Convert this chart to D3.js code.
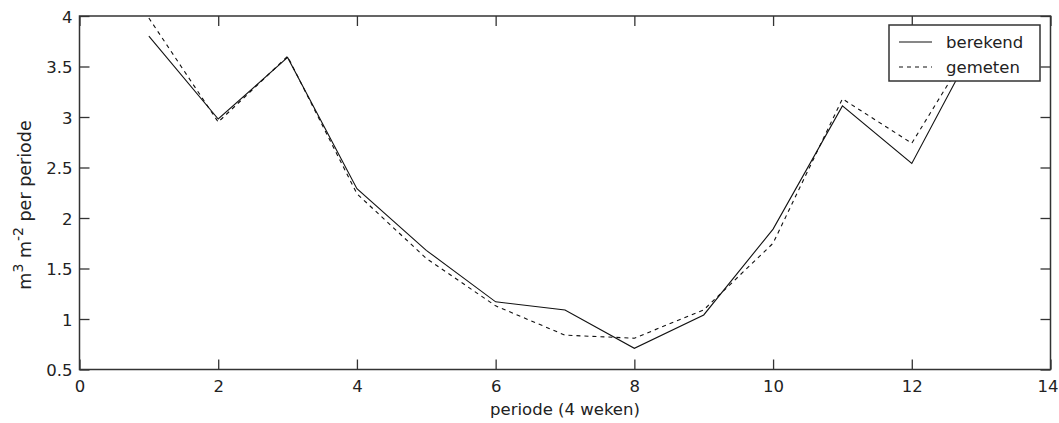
<!DOCTYPE html>
<html>
<head>
<meta charset="utf-8">
<script src="https://cdn.jsdelivr.net/npm/d3@7"></script>
<style>
  body { margin: 0; background: #fff; }
  svg text { font-family: "DejaVu Sans", sans-serif; font-size: 16.5px; fill: #222; }
</style>
</head>
<body>
<script>
const width = 1059;
const height = 423;

// periods 1..13
const periods = [1, 2, 3, 4, 5, 6, 7, 8, 9, 10, 11, 12, 13];
const berekend = [3.80, 2.98, 3.59, 2.29, 1.68, 1.17, 1.09, 0.71, 1.04, 1.89, 3.11, 2.54, 3.83];
const gemeten = [3.98, 2.95, 3.60, 2.24, 1.60, 1.13, 0.84, 0.81, 1.09, 1.75, 3.18, 2.74, 3.86];
const xTicks = [0, 2, 4, 6, 8, 10, 12, 14];
const yTicks = [0.5, 1, 1.5, 2, 2.5, 3, 3.5, 4];
const seriesNames = ["berekend", "gemeten"];

const plotLeft = 79.5, plotRight = 1050.5, plotTop = 16, plotBottom = 369.5;

const svg = d3.select("body")
  .append("svg")
  .attr("width", width)
  .attr("height", height);

const x = d3.scaleLinear().domain([0, 14]).range([plotLeft, plotRight]);
const y = d3.scaleLinear().domain([0.5, 4]).range([plotBottom, plotTop]);

const axisColor = "#333";

// axes with inward ticks (matlab box style)
function styleAxis(g) {
  g.select(".domain").remove();
  g.selectAll(".tick line").attr("stroke", axisColor).attr("stroke-width", 1.3);
}

svg.append("g")
  .attr("transform", `translate(0,${plotBottom})`)
  .call(d3.axisBottom(x).tickValues(xTicks).tickFormat(d3.format("d")).tickSizeInner(-10).tickSizeOuter(0).tickPadding(0))
  .call(styleAxis)
  .call(g => g.selectAll(".tick text").attr("y", 22).attr("dy", 0).style("font-size", "16.5px"))
  // last label squeezed against the window edge
  .call(g => g.selectAll(".tick text").filter(d => d === 14).attr("text-anchor", "end").attr("x", 7.5));

svg.append("g")
  .attr("transform", `translate(0,${plotTop})`)
  .call(d3.axisTop(x).tickValues(xTicks).tickFormat("").tickSizeInner(-10).tickSizeOuter(0))
  .call(styleAxis);

svg.append("g")
  .attr("transform", `translate(${plotLeft},0)`)
  .call(d3.axisLeft(y).tickValues(yTicks).tickFormat(d => d).tickSizeInner(-10).tickSizeOuter(0))
  .call(styleAxis)
  .call(g => g.selectAll(".tick text").attr("x", -7).attr("dy", "0.38em").style("font-size", "16.5px"));

svg.append("g")
  .attr("transform", `translate(${plotRight},0)`)
  .call(d3.axisRight(y).tickValues(yTicks).tickFormat("").tickSizeInner(-10).tickSizeOuter(0))
  .call(styleAxis);

svg.selectAll(".tick text").attr("fill", "#222");

// box
svg.append("rect")
  .attr("x", plotLeft).attr("y", plotTop)
  .attr("width", plotRight - plotLeft).attr("height", plotBottom - plotTop)
  .attr("fill", "none")
  .attr("stroke", axisColor)
  .attr("stroke-width", 1.5);

// lines
const line = d3.line()
  .x((d, i) => x(periods[i]))
  .y(d => y(d));

svg.append("path")
  .datum(berekend)
  .attr("d", line)
  .attr("fill", "none")
  .attr("stroke", "#111")
  .attr("stroke-width", 1.1);

svg.append("path")
  .datum(gemeten)
  .attr("d", line)
  .attr("fill", "none")
  .attr("stroke", "#111")
  .attr("stroke-width", 1.1)
  .attr("stroke-dasharray", "4,4");

// legend
const legend = svg.append("g").attr("transform", "translate(889,25)");
legend.append("rect")
  .attr("width", 151).attr("height", 56)
  .attr("fill", "#fff")
  .attr("stroke", axisColor)
  .attr("stroke-width", 1.5);

seriesNames.forEach((name, i) => {
  const ly = 17 + i * 25;
  legend.append("line")
    .attr("x1", 10).attr("x2", 43)
    .attr("y1", ly).attr("y2", ly)
    .attr("stroke", "#111")
    .attr("stroke-width", 1.1)
    .attr("stroke-dasharray", i === 1 ? "4,4" : null);
  legend.append("text")
    .attr("x", 57)
    .attr("y", ly + 6)
    .text(name);
});

// axis labels
svg.append("text")
  .attr("x", (plotLeft + plotRight) / 2)
  .attr("y", 415)
  .attr("text-anchor", "middle")
  .text("periode (4 weken)");

const ylab = svg.append("text")
  .attr("transform", "translate(31,205) rotate(-90)")
  .attr("text-anchor", "middle")
  .style("font-size", "17.5px");
ylab.append("tspan").text("m");
ylab.append("tspan").attr("dy", -8).style("font-size", "14px").text("3");
ylab.append("tspan").attr("dy", 8).text(" m");
ylab.append("tspan").attr("dy", -8).style("font-size", "14px").text("-2");
ylab.append("tspan").attr("dy", 8).text(" per periode");
</script>
</body>
</html>
